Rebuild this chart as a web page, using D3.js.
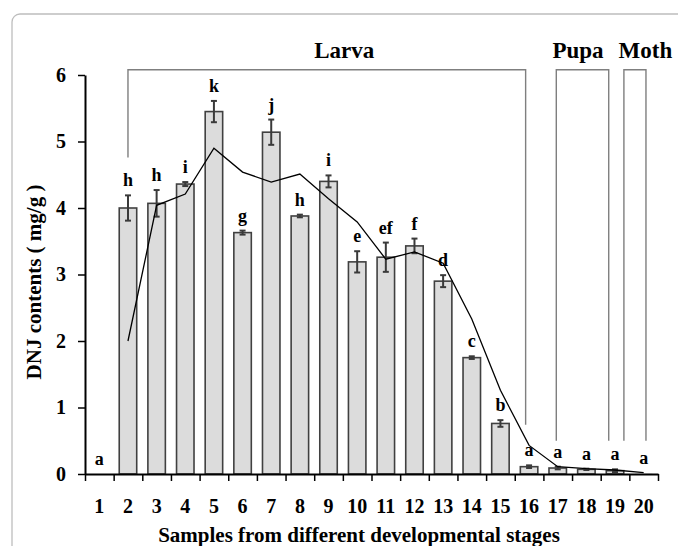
<!DOCTYPE html>
<meta charset="utf-8">
<script src="https://d3js.org/d3.v7.min.js"></script>
<style>
  body { margin: 0; background: #fff; }
  text { font-family: "Liberation Serif", "Times New Roman", serif; font-weight: bold; fill: #000; }
</style>
<div id="chart"></div>
<script>

// samples 1..20 and their DNJ contents (mg/g)
var samples = d3.range(1, 21).map(String)
var dnj     = [0, 4.00, 4.07, 4.36, 5.45, 3.63, 5.14, 3.88, 4.40, 3.19, 3.26, 3.43, 2.90, 1.75, 0.76, 0.11, 0.09, 0.07, 0.05, 0.01]
var sd      = [0, 0.19, 0.20, 0.03, 0.16, 0.03, 0.19, 0.02, 0.09, 0.16, 0.22, 0.11, 0.09, 0.02, 0.05, 0.02, 0.02, 0.01, 0.02, 0.00]
var letters = ["a","h","h","i","k","g","j","h","i","e","ef","f","d","c","b","a","a","a","a","a"]
// trend line (starts at sample 2)
var trend   = [null, 2.00, 4.04, 4.21, 4.90, 4.54, 4.39, 4.51, 4.14, 3.79, 3.23, 3.34, 3.17, 2.33, 1.26, 0.43, 0.11, 0.08, 0.06, 0.02]

// stage brackets, in sample units
var stages      = ["Larva", "Pupa", "Moth"]
var stageFrom   = [2, 16.95, 19.31]
var stageTo     = [15.88, 18.78, 20.08]
var stageLabelX = [9.55, 17.71, 20.06]
var stageLeftY  = [4.76, 0.5, 0.5]
var stageRightY = [0.74, 0.5, 0.5]

var width = 678, height = 546
var margin = {left: 85, right: 20, top: 75, bottom: 72}
var plotR = 658, plotB = 474

var svg = d3.select("#chart").append("svg")
    .attr("width", width)
    .attr("height", height)

// light frame
svg.append("rect")
    .attr("x", 12).attr("y", 14)
    .attr("width", 720).attr("height", 600)
    .attr("rx", 8)
    .attr("fill", "none")
    .attr("stroke", "#bdbdbd")
    .attr("stroke-width", 1.3)

var x = d3.scaleBand().domain(samples).range([margin.left, plotR]).paddingInner(0.39).paddingOuter(0.195)
var xl = d3.scaleLinear().domain([0.5, 20.5]).range([margin.left, plotR])
var y = d3.scaleLinear().domain([0, 6]).range([plotB, margin.top])

// stage brackets
var br = svg.append("g")
stages.forEach(function(s, i) {
  var x0 = xl(stageFrom[i]), x1 = xl(stageTo[i]), top = y(6.08)
  br.append("path")
    .attr("d", "M" + x0 + "," + y(stageLeftY[i]) + "V" + top + "H" + x1 + "V" + y(stageRightY[i]))
    .attr("fill", "none")
    .attr("stroke", "#7f7f7f")
    .attr("stroke-width", 1.4)
  br.append("text")
    .attr("x", xl(stageLabelX[i]))
    .attr("y", y(6.26))
    .attr("text-anchor", "middle")
    .style("font-size", "23px")
    .text(s)
})

// bars
svg.selectAll("rect.bar")
  .data(dnj)
  .enter()
  .append("rect")
    .attr("class", "bar")
    .attr("x", function(d, i) { return x(samples[i]) })
    .attr("width", x.bandwidth())
    .attr("y", function(d) { return y(d) })
    .attr("height", function(d) { return plotB - y(d) })
    .attr("fill", "#dcdcdc")
    .attr("stroke", "#404040")
    .attr("stroke-width", function(d) { return d > 0.02 ? 1.6 : 0 })

// error bars
var eb = svg.append("g").attr("stroke", "#3a3a3a").attr("stroke-width", 2)
dnj.forEach(function(d, i) {
  if (sd[i] <= 0) return
  var cx = x(samples[i]) + x.bandwidth() / 2
  eb.append("line").attr("x1", cx).attr("x2", cx).attr("y1", y(d - sd[i])).attr("y2", y(d + sd[i]))
  eb.append("line").attr("x1", cx - 3).attr("x2", cx + 3).attr("y1", y(d - sd[i])).attr("y2", y(d - sd[i]))
  eb.append("line").attr("x1", cx - 3).attr("x2", cx + 3).attr("y1", y(d + sd[i])).attr("y2", y(d + sd[i]))
})

// trend line
var line = d3.line()
    .defined(function(d) { return d != null })
    .x(function(d, i) { return x(samples[i]) + x.bandwidth() / 2 })
    .y(function(d) { return y(d) })
svg.append("path")
    .attr("d", line(trend))
    .attr("fill", "none")
    .attr("stroke", "#000")
    .attr("stroke-width", 1.3)

// significance letters
svg.selectAll("text.sig")
  .data(letters)
  .enter()
  .append("text")
    .attr("class", "sig")
    .attr("x", function(d, i) { return x(samples[i]) + x.bandwidth() / 2 })
    .attr("y", function(d, i) { return y(dnj[i] + sd[i]) - 9 })
    .attr("text-anchor", "middle")
    .style("font-size", "18px")
    .text(function(d) { return d })

// y axis
var yAxis = svg.append("g")
    .attr("transform", "translate(" + margin.left + ",0)")
    .call(d3.axisLeft(y).ticks(6).tickSize(7).tickPadding(12).tickSizeOuter(0))
yAxis.select(".domain").attr("stroke", "#000").attr("stroke-width", 2)
yAxis.selectAll(".tick line").attr("stroke", "#000").attr("stroke-width", 1.5)
yAxis.selectAll(".tick text").style("font-size", "20px").style("font-family", "Liberation Serif").style("font-weight", "bold")

// x axis: ticks between samples
var xAxis = svg.append("g")
    .attr("transform", "translate(0," + plotB + ")")
    .call(d3.axisBottom(xl).tickValues(d3.range(0.5, 21, 1)).tickSize(7).tickFormat("").tickSizeOuter(0))
xAxis.select(".domain").attr("stroke", "#000").attr("stroke-width", 2)
xAxis.selectAll(".tick line").attr("stroke", "#000").attr("stroke-width", 1.5)

svg.append("g").selectAll("text")
  .data(samples)
  .enter()
  .append("text")
    .attr("x", function(d) { return x(d) + x.bandwidth() / 2 })
    .attr("y", plotB + 39)
    .attr("text-anchor", "middle")
    .style("font-size", "20px")
    .text(function(d) { return d })

// axis titles
svg.append("text")
    .attr("x", 359)
    .attr("y", 542)
    .attr("text-anchor", "middle")
    .style("font-size", "21px")
    .text("Samples from different developmental stages")

svg.append("text")
    .attr("transform", "translate(41,282)rotate(-90)")
    .attr("text-anchor", "middle")
    .style("font-size", "21px")
    .text("DNJ contents ( mg/g )")

</script>
